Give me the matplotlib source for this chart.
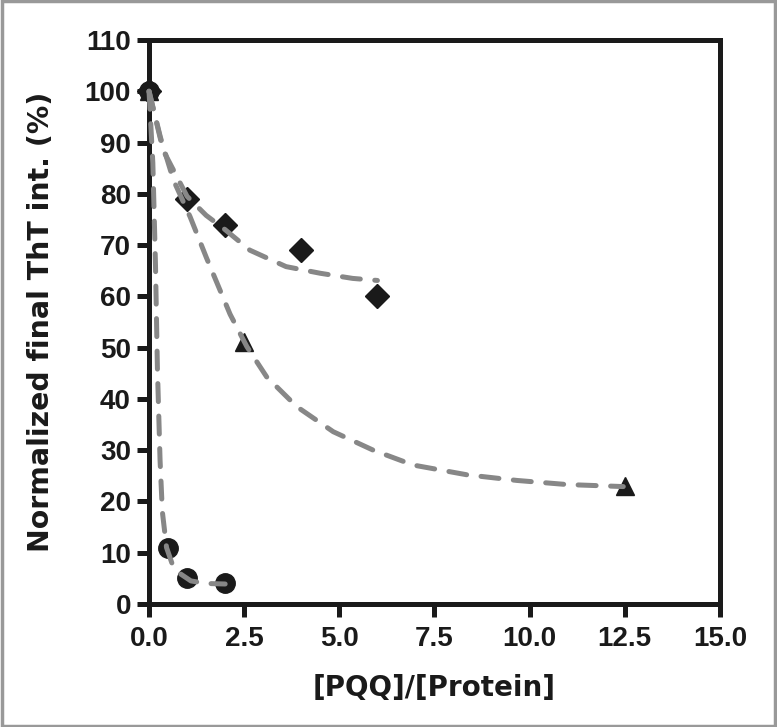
import matplotlib
matplotlib.use('Agg')
from matplotlib import pyplot as plt
from matplotlib.patches import Rectangle

# measured points
diamond_x = [0, 1, 2, 4, 6]
diamond_y = [100, 79, 74, 69, 60]
triangle_x = [0, 2.5, 12.5]
triangle_y = [100, 51, 23]
circle_x = [0, 0.5, 1, 2]
circle_y = [100, 11, 5, 4]

# fitted curves
diamond_fit_x = [0, 0.37, 1.0, 1.5, 2.0, 2.65, 3.6, 4.5, 5.35, 6.0]
diamond_fit_y = [100, 88.5, 79.5, 75.8, 73.0, 69.0, 65.8, 64.5, 63.5, 63.1]
triangle_fit_x = [0, 0.3, 0.64, 1.08, 1.51, 2.13, 2.57, 3.09, 3.88, 4.84,
                  5.89, 6.94, 8.35, 9.66, 10.97, 12.46]
triangle_fit_y = [100, 91, 82.7, 75.5, 67.5, 56.5, 50.2, 44.3, 38.5, 33.6,
                  30.0, 27.1, 25.2, 24.1, 23.3, 22.9]
circle_fit_x = [0, 0.1, 0.17, 0.22, 0.29, 0.35, 0.46, 0.6, 0.8, 1.1, 1.5, 2.0]
circle_fit_y = [100, 86, 66, 46, 28, 18, 11, 8, 6, 4.5, 4.0, 3.9]

x_ticks = [0, 2.5, 5, 7.5, 10, 12.5, 15]
y_ticks = list(range(0, 111, 10))

plt.rcParams['font.family'] = ['Liberation Sans', 'DejaVu Sans']

fig = plt.figure(figsize=(7.77, 7.27), dpi=100)
ax = fig.add_axes([0.1918, 0.1692, 0.7348, 0.7758])

ink = '#1a1a1a'
gray = '#878787'
dash = (0, (3.6, 2.9))

ax.plot(diamond_x, diamond_y, 'D', color=ink, markersize=12, clip_on=False, zorder=3)
ax.plot(triangle_x, triangle_y, '^', color=ink, markersize=13, clip_on=False, zorder=3)
ax.plot(circle_x, circle_y, 'o', color=ink, markersize=14, clip_on=False, zorder=3)

for fx, fy in [(diamond_fit_x, diamond_fit_y),
               (triangle_fit_x, triangle_fit_y),
               (circle_fit_x, circle_fit_y)]:
    ax.plot(fx, fy, color=gray, linewidth=3.6, linestyle=dash,
            dash_capstyle='round', clip_on=False, zorder=4)

ax.set_xlim(0, 15)
ax.set_ylim(0, 110)
ax.set_xticks(x_ticks)
ax.set_xticklabels(['%.1f' % v for v in x_ticks])
ax.set_yticks(y_ticks)

for side in ['left', 'bottom', 'top', 'right']:
    ax.spines[side].set_linewidth(3.6)
    ax.spines[side].set_color(ink)
    ax.spines[side].set_capstyle('projecting')

ax.tick_params(axis='both', direction='out', length=9, width=3.6, color=ink,
               labelsize=20, labelcolor=ink, pad=4)
ax.tick_params(axis='x', pad=7)
for lab in ax.get_xticklabels() + ax.get_yticklabels():
    lab.set_fontweight('bold')

# axis titles are set wider in the reference, DejaVu fits their extent better
ax.set_xlabel('[PQQ]/[Protein]', fontsize=20, fontweight='bold', color=ink,
              family='DejaVu Sans', labelpad=16)
ax.set_ylabel('Normalized final ThT int. (%)', fontsize=20.4, fontweight='bold',
              color=ink, family='DejaVu Sans', labelpad=21)

# grey frame around the whole picture
fig.patches.append(Rectangle((0.002, 0.002), 0.996, 0.996, transform=fig.transFigure,
                             fill=False, edgecolor='#999999', linewidth=2.5))

fig.savefig('out.png', dpi=100)
